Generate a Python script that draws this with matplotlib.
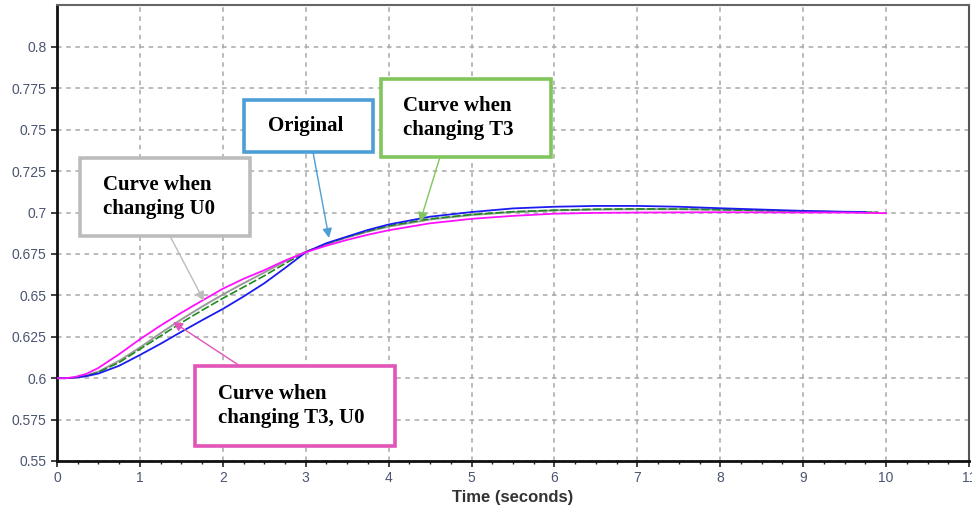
import matplotlib
matplotlib.use("Agg")
import matplotlib.pyplot as plt
from matplotlib.patches import Rectangle, FancyArrowPatch
from matplotlib.ticker import MultipleLocator

# ---- data ----
t_orig = [0, 0.1, 0.2, 0.35, 0.5, 0.75, 1, 1.25, 1.5, 1.75, 2, 2.25, 2.5, 2.75, 3, 3.25, 3.5, 3.75,
          4, 4.5, 5, 5.5, 6, 6.5, 7, 7.5, 8, 8.5, 9, 9.5, 9.75]
original = [0.600, 0.600, 0.6003, 0.6012, 0.6028, 0.6075, 0.6140, 0.6208, 0.6280, 0.6350, 0.6418,
            0.6493, 0.6573, 0.6665, 0.6760, 0.6815, 0.6855, 0.6895, 0.6928, 0.6975, 0.7003, 0.7025,
            0.7035, 0.7040, 0.7040, 0.7035, 0.7026, 0.7018, 0.7010, 0.7005, 0.7003]

t_t3 = [0, 0.1, 0.2, 0.35, 0.5, 0.75, 1, 1.25, 1.5, 1.75, 2, 2.25, 2.5, 2.75, 3, 3.25, 3.5, 3.75,
        4, 4.5, 5, 5.5, 6, 6.5, 7, 7.5, 8, 8.5, 9, 9.5, 9.9]
change_t3 = [0.600, 0.600, 0.6003, 0.6013, 0.6036, 0.6095, 0.6175, 0.6255, 0.6335, 0.6410, 0.6482,
             0.6550, 0.6618, 0.6692, 0.6762, 0.6812, 0.6853, 0.6888, 0.6920, 0.6962, 0.6988, 0.7005,
             0.7014, 0.7020, 0.7022, 0.7021, 0.7017, 0.7012, 0.7007, 0.7003, 0.7001]

t_u0 = [0, 0.1, 0.2, 0.35, 0.5, 0.75, 1, 1.25, 1.5, 1.75, 2, 2.25, 2.5, 2.75, 3, 3.25, 3.5, 3.75,
        4, 4.5, 5, 5.5, 6, 6.5, 7, 7.5, 8, 8.5, 9, 9.5, 9.9]
change_u0 = [0.600, 0.600, 0.6003, 0.6015, 0.6040, 0.6105, 0.6185, 0.6272, 0.6355, 0.6432, 0.6505,
             0.6573, 0.6638, 0.6705, 0.6764, 0.6808, 0.6850, 0.6885, 0.6915, 0.6958, 0.6985, 0.7003,
             0.7013, 0.7018, 0.7020, 0.7020, 0.7018, 0.7012, 0.7007, 0.7003, 0.7001]

t_t3u0 = [0, 0.1, 0.2, 0.35, 0.5, 0.75, 1, 1.25, 1.5, 1.75, 2, 2.25, 2.5, 2.75, 3, 3.25, 3.5, 3.75,
          4, 4.5, 5, 5.5, 6, 6.5, 7, 7.5, 8, 8.5, 9, 9.5, 10]
change_t3_u0 = [0.600, 0.600, 0.6005, 0.6025, 0.6062, 0.6145, 0.6235, 0.6318, 0.6395, 0.6468, 0.6540,
                0.6600, 0.6652, 0.6710, 0.6760, 0.6800, 0.6835, 0.6866, 0.6893, 0.6935, 0.6962, 0.6980,
                0.6993, 0.6998, 0.7000, 0.7001, 0.7002, 0.7001, 0.7000, 0.7000, 0.6996]

x_ticks = list(range(0, 12))
y_ticks = [0.55, 0.575, 0.6, 0.625, 0.65, 0.675, 0.7, 0.725, 0.75, 0.775, 0.8]

W, H = 972, 512
fig = plt.figure(figsize=(W / 100, H / 100), dpi=100)
ax = fig.add_axes([57 / W, 1 - 461 / H, (969 - 57) / W, (461 - 5) / H])

ax.plot(t_u0, change_u0, color="#9a9a9a", lw=1.4, zorder=3)
ax.plot(t_t3, change_t3, color="#1f8a1f", lw=1.2, ls=(0, (5, 1.5)), zorder=4)
ax.plot(t_orig, original, color="#1c1cf0", lw=1.3, zorder=5)
ax.plot(t_t3u0, change_t3_u0, color="#ff10ff", lw=1.3, zorder=6)

ax.set_xlim(0, 11)
ax.set_ylim(0.55, 0.8253)
ax.set_xticks(x_ticks)
ax.set_xticklabels([str(v) for v in x_ticks])
ax.set_yticks(y_ticks)
ax.set_yticklabels([f"{v:g}" for v in y_ticks])
ax.xaxis.set_minor_locator(MultipleLocator(0.25))

tick_color = "#4a5570"
ax.tick_params(axis="both", which="major", direction="out", length=4, width=1.2,
               labelsize=10, colors="#222222")
ax.tick_params(axis="x", which="minor", direction="out", length=2.5, width=1, colors="#222222")
for lab in ax.get_xticklabels() + ax.get_yticklabels():
    lab.set_fontfamily("Liberation Sans")
    lab.set_color(tick_color)

ax.grid(True, which="major", color="#a8a8a8", ls=(0, (3, 3)), lw=1.1)
ax.set_axisbelow(True)

ax.spines["left"].set_linewidth(2.0)
ax.spines["bottom"].set_linewidth(2.0)
ax.spines["left"].set_color("#111111")
ax.spines["bottom"].set_color("#111111")
ax.spines["top"].set_color("#666666")
ax.spines["right"].set_color("#555555")
ax.spines["top"].set_linewidth(1.5)
ax.spines["right"].set_linewidth(1.5)

ax.set_xlabel("Time (seconds)", fontsize=12, fontweight="bold", color="#333333",
              family="Liberation Sans", labelpad=3)


def fp(x, y):
    return (x / W, 1 - y / H)


def callout(x0, y0, x1, y1, text, ec, tx, ha, arrow_from, arrow_to):
    rect = Rectangle(fp(x0, y1), (x1 - x0) / W, (y1 - y0) / H, transform=fig.transFigure,
                     facecolor="white", edgecolor=ec, lw=2.6, zorder=10)
    fig.add_artist(rect)
    fig.text(tx / W, 1 - ((y0 + y1) / 2) / H, text, ha=ha, va="center", fontsize=15,
             fontweight="bold", family="Liberation Serif", linespacing=1.25, zorder=11)
    fig.add_artist(FancyArrowPatch(
        fp(*arrow_from), fp(*arrow_to), transform=fig.transFigure, arrowstyle="-|>",
        mutation_scale=14, color=ec, lw=1.0, zorder=9, shrinkA=0, shrinkB=0))


callout(244, 100, 373, 152, "Original", "#4d9ed6", 306, "center", (313, 152), (329, 238))
callout(381, 79, 551, 157, "Curve when\nchanging T3", "#80c65d", 403, "left", (440, 157), (420, 222))
callout(80, 158, 250, 236, "Curve when\nchanging U0", "#bcbcbc", 103, "left", (170, 236), (204, 301))
callout(195, 366, 395, 446, "Curve when\nchanging T3, U0", "#e254b8", 218, "left", (240, 366), (173, 322))

fig.savefig("out.png", dpi=100)
